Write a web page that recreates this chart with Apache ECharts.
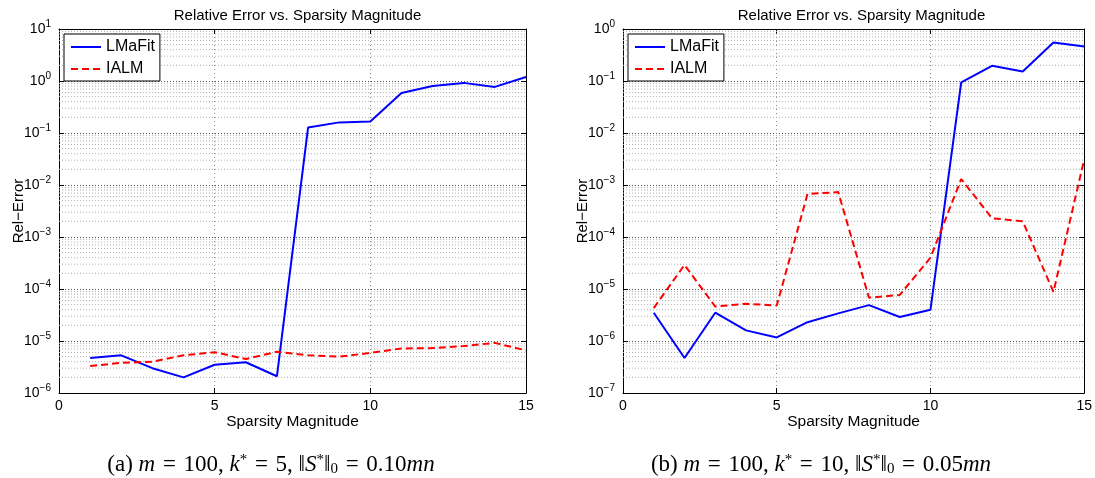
<!DOCTYPE html>
<html>
<head>
<meta charset="utf-8">
<script src="https://cdn.jsdelivr.net/npm/echarts@6/dist/echarts.min.js"></script>
<style>
  html, body { margin: 0; padding: 0; background: #fff; }
  #chart { width: 1095px; height: 478px; }
</style>
</head>
<body>
<div id="chart"></div>
<script>
// sparsity magnitude (x) and the relative errors
const sparsity = [1, 2, 3, 4, 5, 6, 7, 8, 9, 10, 11, 12, 13, 14, 15];
const lmafitA = [4.7e-6, 5.3e-6, 3.0e-6, 2.0e-6, 3.5e-6, 3.9e-6, 2.1e-6, 0.127, 0.16, 0.166, 0.59, 0.8, 0.92, 0.77, 1.19];
const ialmA = [3.3e-6, 3.8e-6, 4.0e-6, 5.3e-6, 6.1e-6, 4.5e-6, 6.2e-6, 5.3e-6, 5.0e-6, 5.9e-6, 7.2e-6, 7.3e-6, 8.0e-6, 9.2e-6, 6.6e-6];
const lmafitB = [3.5e-6, 4.7e-7, 3.5e-6, 1.6e-6, 1.17e-6, 2.3e-6, 3.4e-6, 4.9e-6, 2.9e-6, 4.0e-6, 0.094, 0.196, 0.152, 0.55, 0.46];
const ialmB = [4.3e-6, 2.9e-5, 4.6e-6, 5.2e-6, 4.8e-6, 6.7e-4, 7.3e-4, 6.8e-6, 7.7e-6, 4.0e-5, 1.3e-3, 2.3e-4, 2.0e-4, 8.8e-6, 3.1e-3];

const seriesNames = ['LMaFit', 'IALM'];
const xRange = [0, 15];
const xStep = 5;
const yRangeA = [1e-6, 10];
const yRangeB = [1e-7, 1];
const titleText = 'Relative Error vs. Sparsity Magnitude';
const xName = 'Sparsity Magnitude';
const yName = 'Rel\u2212Error';

const font = 'Liberation Sans, Arial, Helvetica, sans-serif';
const serif = 'Liberation Serif, DejaVu Serif, serif';
const grids = [
    { left: 59, top: 29, width: 467, height: 364 },
    { left: 623, top: 29, width: 467, height: 364 }
];

function zipXY(ys) {
    return sparsity.map((x, i) => [x, ys[i]]);
}

function powLabel(v) {
    const e = Math.round(Math.log10(v));
    return '{b|10}{e|' + (e < 0 ? '\u2212' + (-e) : e) + '}';
}

// horizontal 2..9 x 10^k grid lines, drawn as one broken line across the axis
function minorGrid(range) {
    const out = [];
    const lo = Math.round(Math.log10(range[0]));
    const hi = Math.round(Math.log10(range[1]));
    for (let k = lo; k < hi; k++) {
        for (let m = 2; m <= 9; m++) {
            const v = m * Math.pow(10, k);
            out.push([xRange[0], v], [xRange[1], v], [xRange[1], '-']);
        }
    }
    return out;
}

const tickStyle = { show: true, inside: true, length: 5, lineStyle: { color: '#000', width: 1 } };
const boxLine = { show: true, onZero: false, lineStyle: { color: '#000', width: 1 } };

let xAxes = [], yAxes = [], series = [], titles = [], legends = [];

[yRangeA, yRangeB].forEach((yr, g) => {
    // bottom + top x axes
    xAxes.push({
        gridIndex: g, type: 'value', min: xRange[0], max: xRange[1], interval: xStep,
        position: 'bottom',
        name: xName, nameLocation: 'middle', nameGap: 21, nameMoveOverlap: false,
        nameTextStyle: { fontFamily: font, fontSize: 15.5, color: '#000' },
        axisLine: boxLine, axisTick: tickStyle,
        axisLabel: { fontFamily: font, fontSize: 14, color: '#000', margin: 6 },
        splitLine: { show: true, lineStyle: { type: [1, 3], color: '#888', width: 1 } }
    });
    xAxes.push({
        gridIndex: g, type: 'value', min: xRange[0], max: xRange[1], interval: xStep,
        position: 'top', axisLine: boxLine, axisTick: tickStyle,
        axisLabel: { show: false }, splitLine: { show: false }
    });
    // left + right y axes
    yAxes.push({
        gridIndex: g, type: 'log', logBase: 10, min: yr[0], max: yr[1], interval: 1,
        position: 'left',
        name: yName, nameLocation: 'middle', nameGap: 33, nameRotate: 90, nameMoveOverlap: false,
        nameTextStyle: { fontFamily: font, fontSize: 15, color: '#000' },
        axisLine: boxLine, axisTick: tickStyle,
        axisLabel: {
            margin: 8, formatter: powLabel,
            rich: {
                b: { fontFamily: font, fontSize: 14, color: '#000' },
                e: { fontFamily: font, fontSize: 10, color: '#000', padding: [0, 0, 9, 0] }
            }
        },
        splitLine: { show: true, lineStyle: { type: [1, 2], color: '#555', width: 1 } }
    });
    yAxes.push({
        gridIndex: g, type: 'log', logBase: 10, min: yr[0], max: yr[1], interval: 1,
        position: 'right', axisLine: boxLine, axisTick: tickStyle,
        axisLabel: { show: false }, splitLine: { show: false }
    });

    const xi = g * 2, yi = g * 2;
    series.push({
        name: 'minor-grid-' + g, type: 'line', xAxisIndex: xi, yAxisIndex: yi,
        data: minorGrid(yr), symbol: 'none', z: 1, silent: true, connectNulls: false,
        lineStyle: { type: [1, 2], color: '#b0b0b0', width: 1 }
    });
    const lm = g === 0 ? lmafitA : lmafitB;
    const ia = g === 0 ? ialmA : ialmB;
    series.push({
        name: seriesNames[0], type: 'line', xAxisIndex: xi, yAxisIndex: yi,
        data: zipXY(lm), symbol: 'none', z: 3,
        lineStyle: { color: '#0000ff', width: 2 }, itemStyle: { color: '#0000ff' }
    });
    series.push({
        name: seriesNames[1], type: 'line', xAxisIndex: xi, yAxisIndex: yi,
        data: zipXY(ia), symbol: 'none', z: 3,
        lineStyle: { color: '#ff0000', width: 2, type: [7, 4] }, itemStyle: { color: '#ff0000' }
    });

    titles.push({
        text: titleText, left: grids[g].left + grids[g].width / 2, top: 3, textAlign: 'center',
        textStyle: { fontFamily: font, fontSize: 15, fontWeight: 'normal', color: '#000' }
    });
    legends.push({
        data: seriesNames, orient: 'vertical', left: grids[g].left + 5, top: 34,
        backgroundColor: '#fff', borderColor: '#000', borderWidth: 1,
        padding: [5, 5, 4, 6], itemWidth: 30, itemHeight: 14, itemGap: 6,
        itemStyle: { opacity: 0 },
        textStyle: { fontFamily: font, fontSize: 16, color: '#000' },
        z: 10
    });
});

const captionRich = {
    r: { fontFamily: serif, fontSize: 23, color: '#000' },
    i: { fontFamily: serif, fontSize: 23, fontStyle: 'italic', color: '#000' },
    sup: { fontFamily: serif, fontSize: 15, color: '#000', padding: [0, 0, 10, 0] },
    sub: { fontFamily: serif, fontSize: 15, color: '#000', padding: [8, 0, 0, 0] }
};

function caption(tag, k, frac) {
    const eq = '\u2004=\u2004';
    return '{r|(' + tag + ') }{i|m}{r|' + eq + '100, }{i|k}{sup|*}{r|' + eq + k + ', \u2016}{i|S}{sup|*}{r|\u2016}{sub|0}{r|' + eq + frac + '}{i|mn}';
}

const chart = echarts.init(document.getElementById('chart'));
chart.setOption({
    animation: false,
    backgroundColor: '#fff',
    title: titles,
    legend: legends,
    grid: grids.map(g => Object.assign({ containLabel: false }, g)),
    xAxis: xAxes,
    yAxis: yAxes,
    series: series,
    graphic: [
        { type: 'text', x: 271, y: 465, style: { text: caption('a', 5, '0.10'), rich: captionRich, align: 'center', verticalAlign: 'middle' } },
        { type: 'text', x: 821, y: 465, style: { text: caption('b', 10, '0.05'), rich: captionRich, align: 'center', verticalAlign: 'middle' } }
    ]
});
</script>
</body>
</html>
